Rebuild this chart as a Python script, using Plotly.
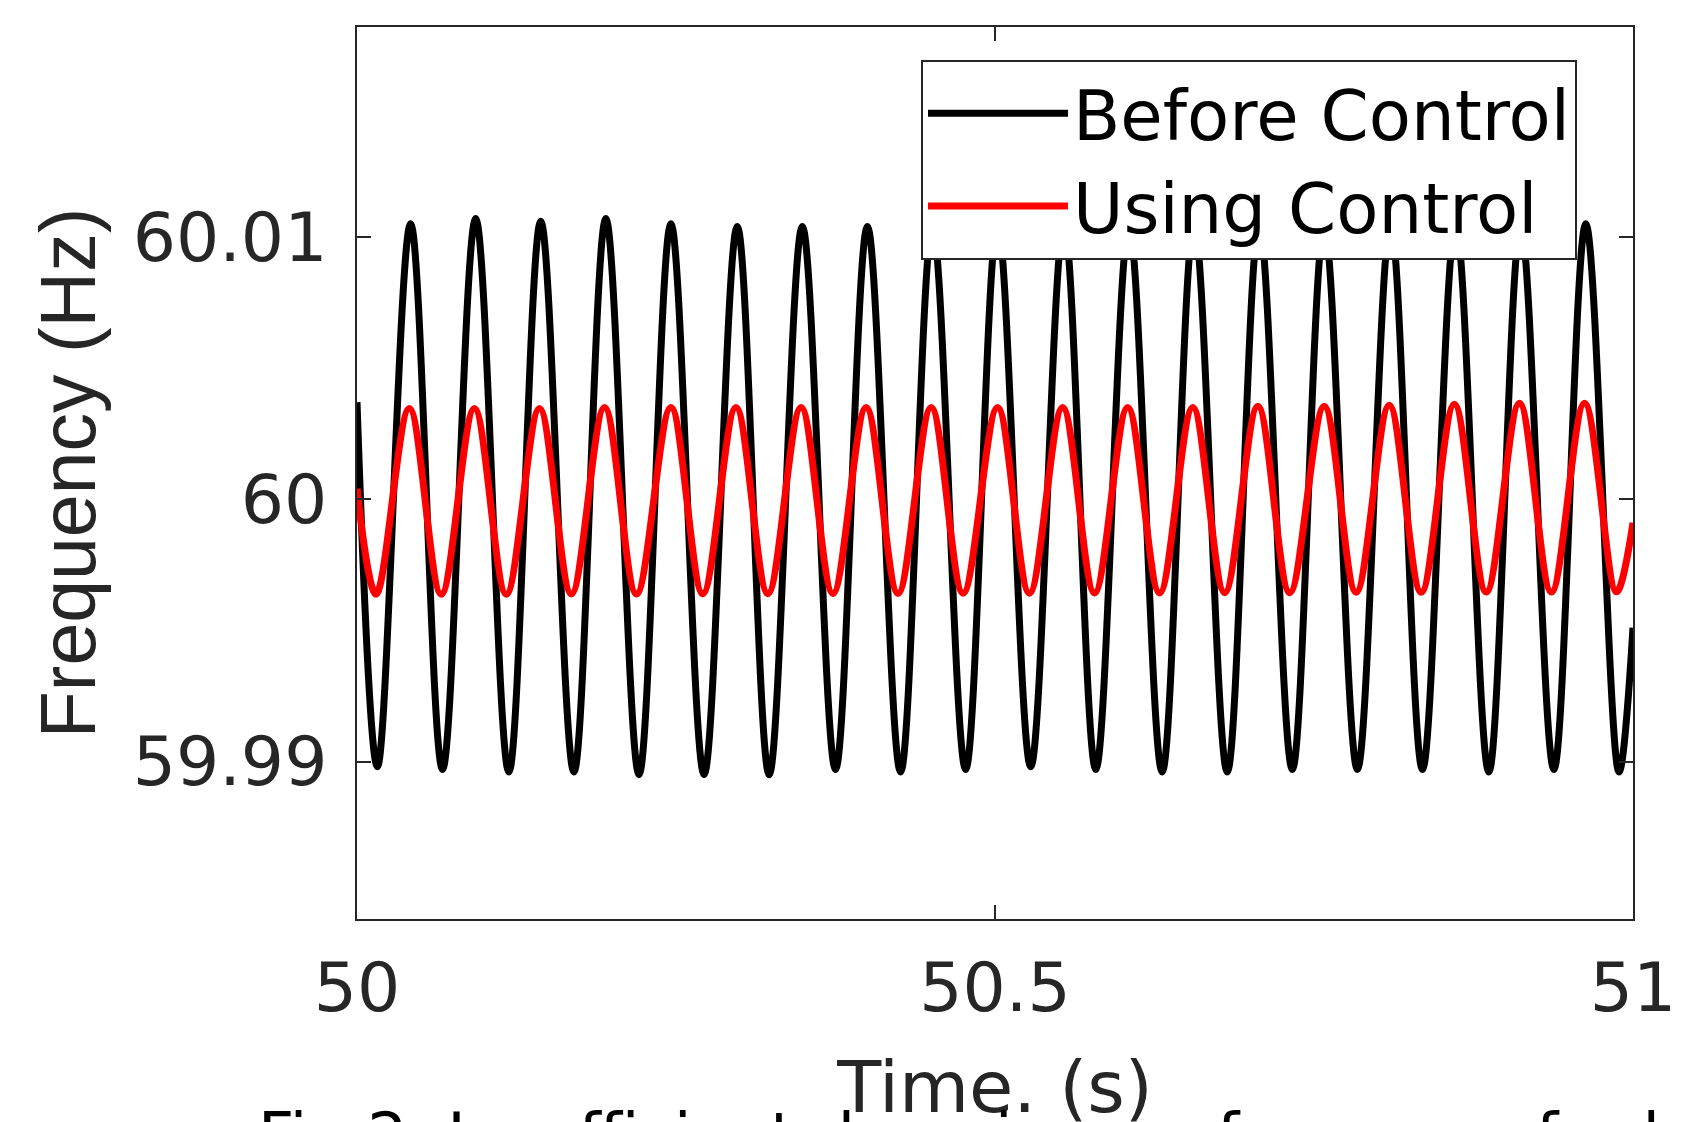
import plotly.graph_objects as go

# ---- data ----
x_ticks = [50, 50.5, 51]
x_tick_labels = ["50", "50.5", "51"]
y_ticks = [59.99, 60.0, 60.01]
y_tick_labels = ["59.99", "60", "60.01"]

# Before Control (black) : start, troughs, peaks, end
before_start = (50.0, 60.0037)
before_end = (51.0, 59.9951)
before_trough_t = [50.016, 50.067, 50.119, 50.170, 50.221, 50.272, 50.323, 50.375, 50.426, 50.477,
                   50.528, 50.579, 50.631, 50.682, 50.733, 50.784, 50.835, 50.887, 50.938, 50.989]
before_trough_f = [59.9898, 59.9897, 59.9896, 59.9896, 59.9895, 59.9895, 59.9895, 59.9897, 59.9896, 59.9897,
                   59.9898, 59.9897, 59.9896, 59.9896, 59.9897, 59.9897, 59.9897, 59.9896, 59.9897, 59.9896]
before_peak_t = [50.042, 50.093, 50.144, 50.195, 50.246, 50.298, 50.349, 50.400, 50.451, 50.502,
                 50.554, 50.605, 50.656, 50.707, 50.758, 50.810, 50.861, 50.912, 50.963]
before_peak_f = [60.0105, 60.0107, 60.0106, 60.0107, 60.0105, 60.0104, 60.0104, 60.0104, 60.0104, 60.0105,
                 60.0105, 60.0104, 60.0105, 60.0105, 60.0104, 60.0105, 60.0105, 60.0104, 60.0105]

# Using Control (red)
using_start = (50.0, 60.0004)
using_end = (51.0, 59.9991)
using_trough_t = [50.015, 50.066, 50.117, 50.168, 50.219, 50.271, 50.322, 50.373, 50.424, 50.475,
                  50.527, 50.578, 50.629, 50.680, 50.731, 50.783, 50.834, 50.885, 50.936, 50.987]
using_trough_f = [59.99638, 59.99638, 59.99638, 59.99639, 59.99639, 59.99640, 59.99640, 59.99641, 59.99641, 59.99642,
                  59.99642, 59.99643, 59.99643, 59.99644, 59.99644, 59.99645, 59.99645, 59.99646, 59.99646, 59.99647]
using_peak_t = [50.041, 50.092, 50.143, 50.194, 50.246, 50.297, 50.348, 50.399, 50.450, 50.502,
                50.553, 50.604, 50.655, 50.706, 50.758, 50.809, 50.860, 50.911, 50.962]
using_peak_f = [60.00346, 60.00346, 60.00346, 60.00350, 60.00350, 60.00350, 60.00350, 60.00350, 60.00350, 60.00350,
                60.00350, 60.00350, 60.00350, 60.00354, 60.00354, 60.00358, 60.00362, 60.00366, 60.00366]

caption_text = "Fig.2. Insufficient damping performance for l"


def build(start, troughs_t, troughs_f, peaks_t, peaks_f, end):
    pts = [start] + list(zip(troughs_t, troughs_f)) + list(zip(peaks_t, peaks_f)) + [end]
    pts.sort(key=lambda p: p[0])
    return [p[0] for p in pts], [p[1] for p in pts]


bx, by = build(before_start, before_trough_t, before_trough_f, before_peak_t, before_peak_f, before_end)
ux, uy = build(using_start, using_trough_t, using_trough_f, using_peak_t, using_peak_f, using_end)

AX = "#262626"
TICKFONT = dict(family="DejaVu Sans", size=68, color=AX)

fig = go.Figure()
fig.add_trace(go.Scatter(x=bx, y=by, mode="lines", name="Before Control",
                         line=dict(color="black", width=7, shape="spline", smoothing=1)))
fig.add_trace(go.Scatter(x=ux, y=uy, mode="lines", name="Using Control",
                         line=dict(color="#ff0000", width=7, shape="spline", smoothing=1)))

fig.update_layout(
    width=1706, height=1122,
    margin=dict(l=349, r=81, t=19, b=211, autoexpand=False),
    paper_bgcolor="white", plot_bgcolor="white",
    showlegend=True,
    legend=dict(x=0.442, y=0.963, xanchor="left", yanchor="top",
                bgcolor="white", bordercolor=AX, borderwidth=2,
                font=dict(family="DejaVu Sans", size=69, color="black"),
                itemwidth=140, tracegroupgap=0),
    xaxis=dict(range=[50, 51], tickvals=x_ticks, ticktext=x_tick_labels,
               showline=True, mirror="ticks", linecolor=AX, linewidth=2,
               ticks="inside", ticklen=14, tickwidth=2, tickcolor=AX,
               showgrid=False, zeroline=False, tickfont=TICKFONT,
               ticklabelstandoff=8,
               title=dict(text="Time. (s)", font=dict(family="DejaVu Sans", size=72, color=AX), standoff=36)),
    yaxis=dict(range=[59.984, 60.018], tickvals=y_ticks, ticktext=y_tick_labels,
               showline=True, mirror="ticks", linecolor=AX, linewidth=2,
               ticks="inside", ticklen=14, tickwidth=2, tickcolor=AX,
               showgrid=False, zeroline=False, tickfont=TICKFONT,
               ticklabelstandoff=14,
               title=dict(text="Frequency (Hz)", font=dict(family="Liberation Sans, Arial", size=77, color=AX), standoff=12)),
    annotations=[dict(text=caption_text, xref="paper", yref="paper", x=-0.079, y=-0.2,
                      xanchor="left", yanchor="top", showarrow=False,
                      font=dict(family="DejaVu Sans", size=63, color="black"))],
)

fig.write_html("out.html")
